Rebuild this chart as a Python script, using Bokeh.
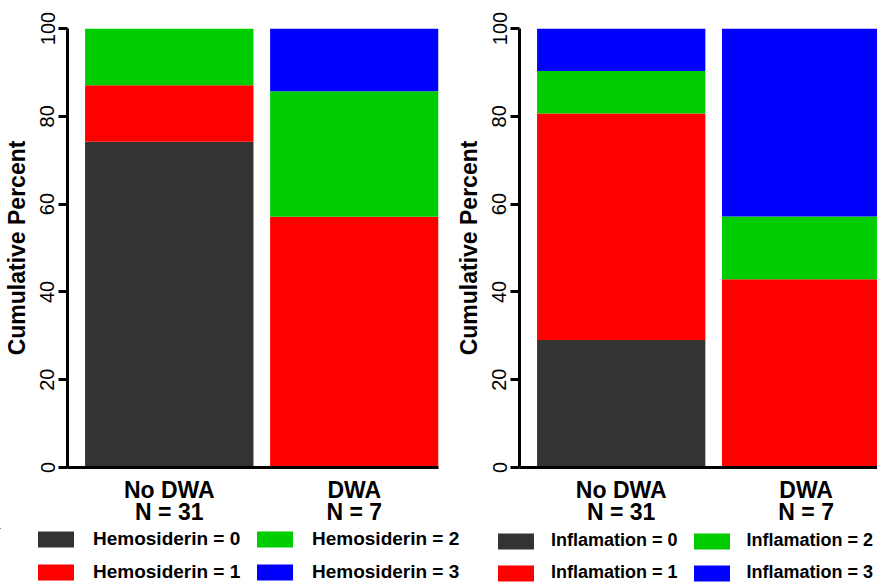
from bokeh.plotting import figure
from bokeh.models import Range1d, FixedTicker, Legend, LegendItem, ColumnDataSource
from bokeh.layouts import row, column
from bokeh.embed import file_html
from bokeh.resources import INLINE

categories = ["No DWA", "DWA"]
group_n = [31, 7]
levels = ["0", "1", "2", "3"]
colors = ["#333333", "#FF0000", "#00CD00", "#0000FF"]
y_ticks = [0, 20, 40, 60, 80, 100]

# percent of each group at each level (cumulative stacks)
hemosiderin_pct = {
    "0": [74.19, 0.00],
    "1": [12.90, 57.14],
    "2": [12.90, 28.57],
    "3": [0.00, 14.29],
}
inflamation_pct = {
    "0": [29.03, 0.00],
    "1": [51.61, 42.86],
    "2": [9.68, 14.29],
    "3": [9.68, 42.86],
}

FONT = "Liberation Sans"
xs = [i + 0.5 for i in range(len(categories))]


def make_source(pct):
    data = dict(x=xs)
    for l in levels:
        data["v" + l] = pct[l]
    return ColumnDataSource(data)


def make_panel(src, width, x_end, border_right):
    p = figure(width=width, height=528, x_range=Range1d(-0.05, x_end),
               y_range=Range1d(0, 100), output_backend="svg",
               toolbar_location=None, min_border_left=61,
               min_border_right=border_right, min_border_top=28,
               min_border_bottom=61)
    p.vbar_stack(["v" + l for l in levels], x="x", width=0.91,
                 color=colors, line_color=None, source=src)
    p.grid.visible = False
    p.outline_line_color = None

    xa = p.xaxis[0]
    xa.ticker = FixedTicker(ticks=xs)
    xa.major_label_overrides = {x: f"{c}\nN = {n}" for x, c, n in zip(xs, categories, group_n)}
    xa.major_tick_line_color = None
    xa.minor_tick_line_color = None
    xa.major_tick_out = 0
    xa.major_tick_in = 0
    xa.axis_line_width = 3
    xa.axis_line_color = "black"
    xa.major_label_text_font = FONT
    xa.major_label_text_font_style = "bold"
    xa.major_label_text_font_size = "23px"
    xa.major_label_text_color = "black"
    xa.major_label_text_line_height = 0.86
    xa.major_label_standoff = 9

    ya = p.yaxis[0]
    ya.ticker = FixedTicker(ticks=y_ticks)
    ya.major_label_orientation = "vertical"
    ya.major_tick_out = 9
    ya.major_tick_in = 0
    ya.major_tick_line_width = 3
    ya.major_tick_line_color = "black"
    ya.minor_tick_line_color = None
    ya.axis_line_width = 3
    ya.axis_line_color = "black"
    ya.major_label_text_font = FONT
    ya.major_label_text_font_size = "20px"
    ya.major_label_text_color = "black"
    ya.major_label_standoff = 4
    ya.axis_label = "Cumulative Percent"
    ya.axis_label_text_font = FONT
    ya.axis_label_text_font_style = "bold"
    ya.axis_label_text_font_size = "23px"
    ya.axis_label_text_color = "black"
    ya.axis_label_standoff = 8
    return p


src_h = make_source(hemosiderin_pct)
src_i = make_source(inflamation_pct)
p1 = make_panel(src_h, 452, 1.955, 14)
p2 = make_panel(src_i, 425, 1.886, 0)

# legend strip under both charts (its own frame covers the whole strip;
# the ranges keep its stand-in bars out of view)
q = figure(width=877, height=55, x_range=Range1d(10, 11), y_range=Range1d(-2, -1),
           output_backend="svg", toolbar_location=None,
           x_axis_location=None, y_axis_location=None, min_border=0,
           background_fill_color="white", border_fill_color="white")
q.grid.visible = False
q.outline_line_color = None


def add_legend(name, src, loc_x, label_width, standoff, font_size):
    rs = q.vbar_stack(["v" + l for l in levels], x="x", width=0.91,
                      color=colors, line_color=None, source=src)
    items = [LegendItem(label=f"{name} = {l}", renderers=[r]) for l, r in zip(levels, rs)]
    leg = Legend(items=items, location=(loc_x, 0), orientation="vertical", ncols=2,
                 glyph_width=45, glyph_height=20, label_standoff=standoff, spacing=11,
                 padding=0, margin=0, border_line_color=None,
                 background_fill_alpha=0, label_width=label_width, label_height=20,
                 label_text_font=FONT, label_text_font_style="bold",
                 label_text_font_size=font_size, label_text_color="black",
                 label_text_baseline="middle")
    q.add_layout(leg)


add_legend("Hemosiderin", src_h, 33, 148, 15, "19px")
add_legend("Inflamation", src_i, 493, 120, 13, "18px")

layout = column(row(p1, p2, spacing=0), q, spacing=0)

open("out.html", "w").write(file_html(layout, INLINE))
